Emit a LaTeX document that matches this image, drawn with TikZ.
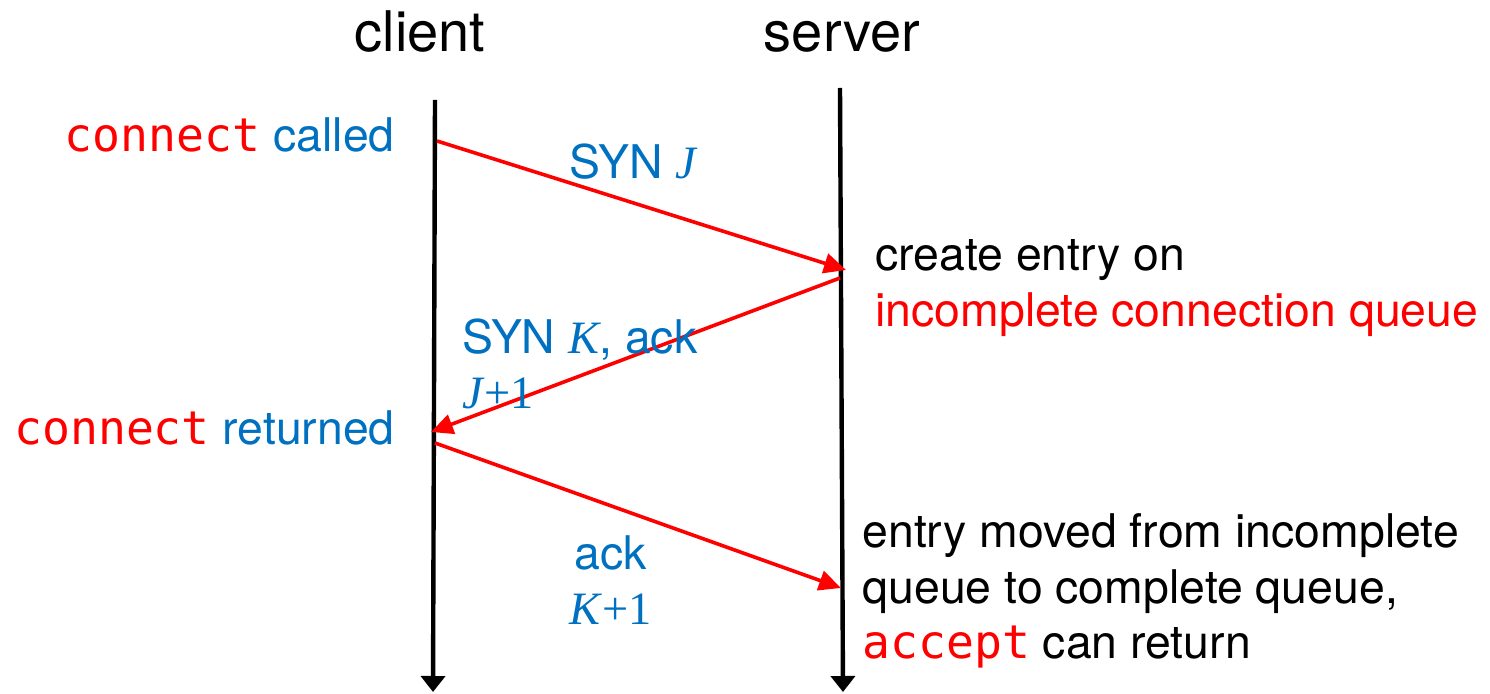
\documentclass[tikz,border=0pt]{standalone}
\usepackage{fontspec}
\setmainfont{TeX Gyre Heros}
\setmonofont{DejaVu Sans Mono}
\newfontfamily\msgserif{Liberation Serif}
\usetikzlibrary{positioning, arrows.meta}
\definecolor{MsgBlue}{RGB}{0, 112, 192}
\definecolor{MsgRed}{RGB}{255, 0, 0}
\newcommand{\callname}[1]{\textcolor{MsgRed}{\texttt{#1}}}
\newcommand{\seqvar}[1]{{\msgserif\itshape #1}}
\newcommand{\seqnum}[1]{{\msgserif\textit{#1}+1}}

\begin{document}
\begin{tikzpicture}[x=0.5pt, y=-0.5pt,
    lifeline/.style={line width=2.2pt, -{Triangle[length=8pt, width=12pt]}},
    msg/.style={MsgRed, line width=1.8pt, -{Triangle[length=11pt, width=10pt]}},
    lbl/.style={inner sep=0pt, font=\fontsize{23.2}{27.8}\selectfont},
    head/.style={inner sep=0pt, anchor=base, font=\fontsize{28}{32}\selectfont}]
    \useasboundingbox (0,0) rectangle (1490,694);

    % Lifelines
    \node[head] (client) at (420,52) {client};
    \node[head] (server) at (842,52) {server};
    \coordinate (ctop) at (435,100);
    \coordinate (cbot) at (433,692);
    \coordinate (stop) at (840,88);
    \coordinate (sbot) at (843,692);
    \draw[lifeline] (ctop) -- (cbot);
    \draw[lifeline] (stop) -- (sbot);

    % Messages
    \coordinate (syn1s) at (437,141);
    \coordinate (syn1e) at (846,270);
    \coordinate (syn2s) at (840,278);
    \coordinate (syn2e) at (431,432);
    \coordinate (acks) at (435,443);
    \coordinate (acke) at (841,588);
    \draw[msg] (syn1s) -- (syn1e);
    \draw[msg] (syn2s) -- (syn2e);
    \draw[msg] (acks) -- (acke);

    % Message labels
    \node[lbl, MsgBlue] (synj) at (633,162) {SYN \seqvar{J}};
    \node[lbl, MsgBlue, align=left, anchor=west] (synk) at (462,364)
        {SYN \seqvar{K}, ack\\\seqnum{J}};
    \node[lbl, MsgBlue, align=center] (ackk) at (611,580) {ack\\\seqnum{K}};

    % Client events
    \node[lbl, MsgBlue, anchor=east] (called) at (395,135) {\callname{connect} called};
    \node[lbl, MsgBlue, anchor=east] (returned) at (395,428) {\callname{connect} returned};

    % Server events
    \node[lbl, align=left, anchor=west] (entry) at (875,288)
        {create entry on\\\textcolor{MsgRed}{incomplete connection queue}};
    \node[lbl, align=left, anchor=west] (moved) at (862,591)
        {entry moved from incomplete\\queue to complete queue,\\\callname{accept} can return};
\end{tikzpicture}
\end{document}
